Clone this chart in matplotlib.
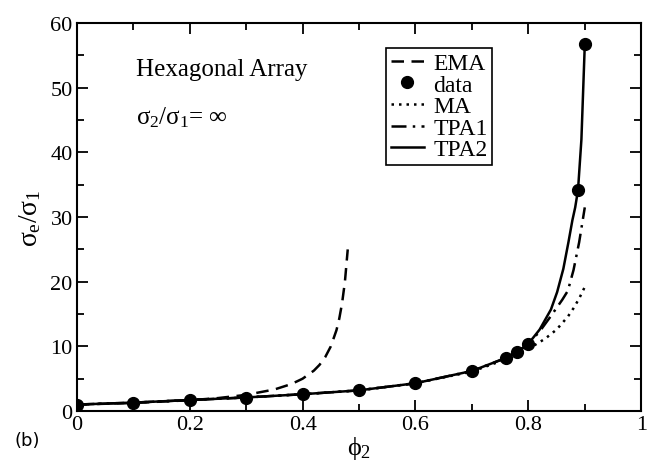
import matplotlib
matplotlib.use('Agg')
import matplotlib.pyplot as plt
from matplotlib.ticker import MultipleLocator, FixedLocator

plt.rc('font', family='Liberation Serif')
plt.rc('mathtext', fontset='custom', rm='Liberation Serif', it='Liberation Serif',
       bf='Liberation Serif:bold')

# values
phi_data = [0.0, 0.1, 0.2, 0.3, 0.4, 0.5, 0.6, 0.7, 0.76, 0.78, 0.8, 0.888, 0.9]
sig_data = [1.0, 1.3, 1.7, 2.0, 2.6, 3.2, 4.3, 6.2, 8.2, 9.1, 10.4, 34.2, 56.7]

phi_ema = [0.0, 0.1, 0.2, 0.25, 0.3, 0.35, 0.38, 0.4, 0.42, 0.43, 0.44, 0.45, 0.46, 0.465, 0.47, 0.475, 0.48]
sig_ema = [1.0, 1.25, 1.67, 2.0, 2.5, 3.33, 4.17, 5.0, 6.25, 7.14, 8.33, 10.0, 12.5, 14.3, 16.7, 20.0, 25.0]

phi_ma = [0.0, 0.1, 0.2, 0.3, 0.4, 0.5, 0.6, 0.7, 0.76, 0.8, 0.83, 0.85, 0.87, 0.88, 0.89, 0.9]
sig_ma = [1.0, 1.3, 1.7, 2.1, 2.6, 3.2, 4.3, 6.1, 8.0, 9.6, 11.2, 12.6, 14.6, 15.9, 17.4, 19.2]

phi_tpa1 = [0.0, 0.1, 0.2, 0.3, 0.4, 0.5, 0.6, 0.7, 0.76, 0.78, 0.8, 0.82, 0.84, 0.86, 0.87, 0.88, 0.89, 0.9]
sig_tpa1 = [1.0, 1.3, 1.7, 2.1, 2.6, 3.2, 4.3, 6.2, 8.2, 9.1, 10.4, 12.3, 14.7, 17.2, 18.6, 21.8, 26.1, 31.5]

phi_tpa2 = [0.0, 0.1, 0.2, 0.3, 0.4, 0.5, 0.6, 0.7, 0.76, 0.78, 0.8, 0.82, 0.84, 0.851, 0.862, 0.871, 0.878, 0.883, 0.888, 0.894, 0.9]
sig_tpa2 = [1.0, 1.3, 1.7, 2.1, 2.6, 3.2, 4.3, 6.2, 8.2, 9.1, 10.4, 12.6, 15.7, 18.4, 22.0, 26.1, 29.5, 31.5, 34.2, 42.0, 56.7]

xticks = [0, 0.2, 0.4, 0.6, 0.8, 1.0]
xtick_labels = ['0', '0.2', '0.4', '0.6', '0.8', '1']

fig = plt.figure(figsize=(6.51, 4.64), dpi=100)
ax = fig.add_axes([0.118, 0.112, 0.867, 0.836])

lw = 1.8
ax.plot(phi_ema, sig_ema, color='k', ls=(0, (5, 3)), lw=lw, label='EMA')
ax.plot(phi_data, sig_data, 'o', color='k', ms=8.5, label='data')
ax.plot(phi_ma, sig_ma, color='k', ls=(0, (1, 2)), lw=lw, label='MA')
ax.plot(phi_tpa1, sig_tpa1, color='k', ls=(0, (6, 2.5, 1, 2.5)), lw=lw, label='TPA1')
ax.plot(phi_tpa2, sig_tpa2, color='k', ls='-', lw=lw, label='TPA2')

ax.set_xlim(0, 1)
ax.set_ylim(0, 60)
ax.xaxis.set_major_locator(FixedLocator(xticks))
ax.set_xticklabels(xtick_labels)
ax.xaxis.set_minor_locator(MultipleLocator(0.1))
ax.yaxis.set_major_locator(MultipleLocator(10))
ax.yaxis.set_minor_locator(MultipleLocator(5))
ax.tick_params(which='both', direction='in', top=True, right=True, labelsize=16, width=1.3)
ax.tick_params(which='major', length=8, pad=3)
ax.tick_params(which='minor', length=5)
for s in ax.spines.values():
    s.set_linewidth(1.5)

ax.set_xlabel(r'$\phi_2$', fontsize=19, labelpad=0)
ax.set_ylabel(r'$\sigma_e/\sigma_1$', fontsize=20)
ax.yaxis.set_label_coords(-0.06, 0.5)

ax.text(0.105, 0.881, 'Hexagonal Array', transform=ax.transAxes, fontsize=18, va='center')
ax.text(0.105, 0.758, r'$\sigma_2/\sigma_1$= $\infty$', transform=ax.transAxes, fontsize=18, va='center')

leg = ax.legend(loc='upper left', bbox_to_anchor=(0.548, 0.936), fontsize=17, handlelength=1.4,
                handletextpad=0.4, labelspacing=0.0, borderpad=0.2, fancybox=False,
                framealpha=1, edgecolor='k', borderaxespad=0)
leg.get_frame().set_linewidth(1.2)

fig.text(0.023, 0.05, '(b)', fontsize=13, family='DejaVu Sans', va='center')

fig.savefig('out.png', dpi=100)
